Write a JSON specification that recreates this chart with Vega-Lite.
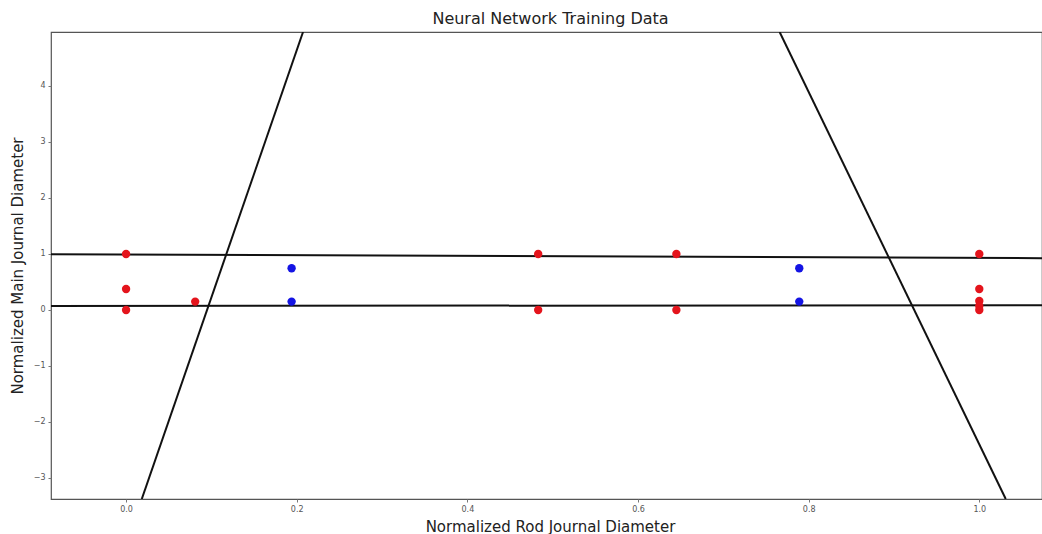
{
  "$schema": "https://vega.github.io/schema/vega-lite/v6.json",
  "width": 991,
  "height": 467,
  "autosize": {"type": "none"},
  "padding": {"left": 51, "top": 32, "right": 0, "bottom": 35},
  "background": "white",
  "title": {
    "text": "Neural Network Training Data",
    "font": "DejaVu Sans",
    "fontSize": 16,
    "fontWeight": "normal",
    "color": "#222222",
    "anchor": "middle",
    "dx": 4,
    "offset": 5
  },
  "config": {
    "view": {"stroke": "#555555", "strokeWidth": 1.2},
    "axis": {
      "grid": false,
      "domain": false,
      "tickColor": "#777777",
      "tickSize": 3,
      "labelFont": "DejaVu Sans",
      "labelFontSize": 8,
      "labelColor": "#555555",
      "titleFont": "DejaVu Sans",
      "titleFontSize": 15,
      "titleFontWeight": "normal",
      "titleColor": "#222222"
    }
  },
  "datasets": {
    "points": [
      {"x": 0.0, "y": 1.0, "cls": "red"},
      {"x": 0.0, "y": 0.375, "cls": "red"},
      {"x": 0.0, "y": 0.0, "cls": "red"},
      {"x": 0.081, "y": 0.15, "cls": "red"},
      {"x": 0.483, "y": 1.0, "cls": "red"},
      {"x": 0.483, "y": 0.0, "cls": "red"},
      {"x": 0.645, "y": 1.0, "cls": "red"},
      {"x": 0.645, "y": 0.0, "cls": "red"},
      {"x": 1.0, "y": 1.0, "cls": "red"},
      {"x": 1.0, "y": 0.375, "cls": "red"},
      {"x": 1.0, "y": 0.16, "cls": "red"},
      {"x": 1.0, "y": 0.07, "cls": "red"},
      {"x": 1.0, "y": 0.0, "cls": "red"},
      {"x": 0.194, "y": 0.745, "cls": "blue"},
      {"x": 0.194, "y": 0.15, "cls": "blue"},
      {"x": 0.789, "y": 0.745, "cls": "blue"},
      {"x": 0.789, "y": 0.15, "cls": "blue"}
    ],
    "lines": [
      {"id": "a", "o": 1, "x": 0.0184, "y": -3.375},
      {"id": "a", "o": 2, "x": 0.2074, "y": 4.964},
      {"id": "b", "o": 1, "x": 0.766, "y": 4.964},
      {"id": "b", "o": 2, "x": 1.031, "y": -3.375},
      {"id": "c", "o": 1, "x": -0.088, "y": 0.995},
      {"id": "c", "o": 2, "x": 1.0735, "y": 0.926},
      {"id": "d", "o": 1, "x": -0.088, "y": 0.072},
      {"id": "d", "o": 2, "x": 1.0735, "y": 0.085}
    ]
  },
  "encoding": {
    "x": {
      "field": "x", "type": "quantitative",
      "scale": {"domain": [-0.088, 1.0735], "nice": false, "zero": false},
      "axis": {"title": "Normalized Rod Journal Diameter", "values": [0, 0.2, 0.4, 0.6, 0.8, 1.0], "format": ".1f", "labelPadding": 3, "titlePadding": 6, "titleX": 499}
    },
    "y": {
      "field": "y", "type": "quantitative",
      "scale": {"domain": [-3.375, 4.964], "nice": false, "zero": false},
      "axis": {"title": "Normalized Main Journal Diameter", "values": [-3, -2, -1, 0, 1, 2, 3, 4], "format": "d", "labelPadding": 3, "titlePadding": 8}
    }
  },
  "layer": [
    {
      "data": {"name": "lines"},
      "mark": {"type": "line", "color": "#111111", "strokeWidth": 2, "clip": true},
      "encoding": {
        "detail": {"field": "id"},
        "order": {"field": "o"}
      }
    },
    {
      "data": {"name": "points"},
      "mark": {"type": "point", "filled": true, "opacity": 1, "size": 70},
      "encoding": {
        "color": {
          "field": "cls", "type": "nominal",
          "scale": {"domain": ["red", "blue"], "range": ["#e4141c", "#1414e4"]},
          "legend": null
        }
      }
    }
  ]
}
